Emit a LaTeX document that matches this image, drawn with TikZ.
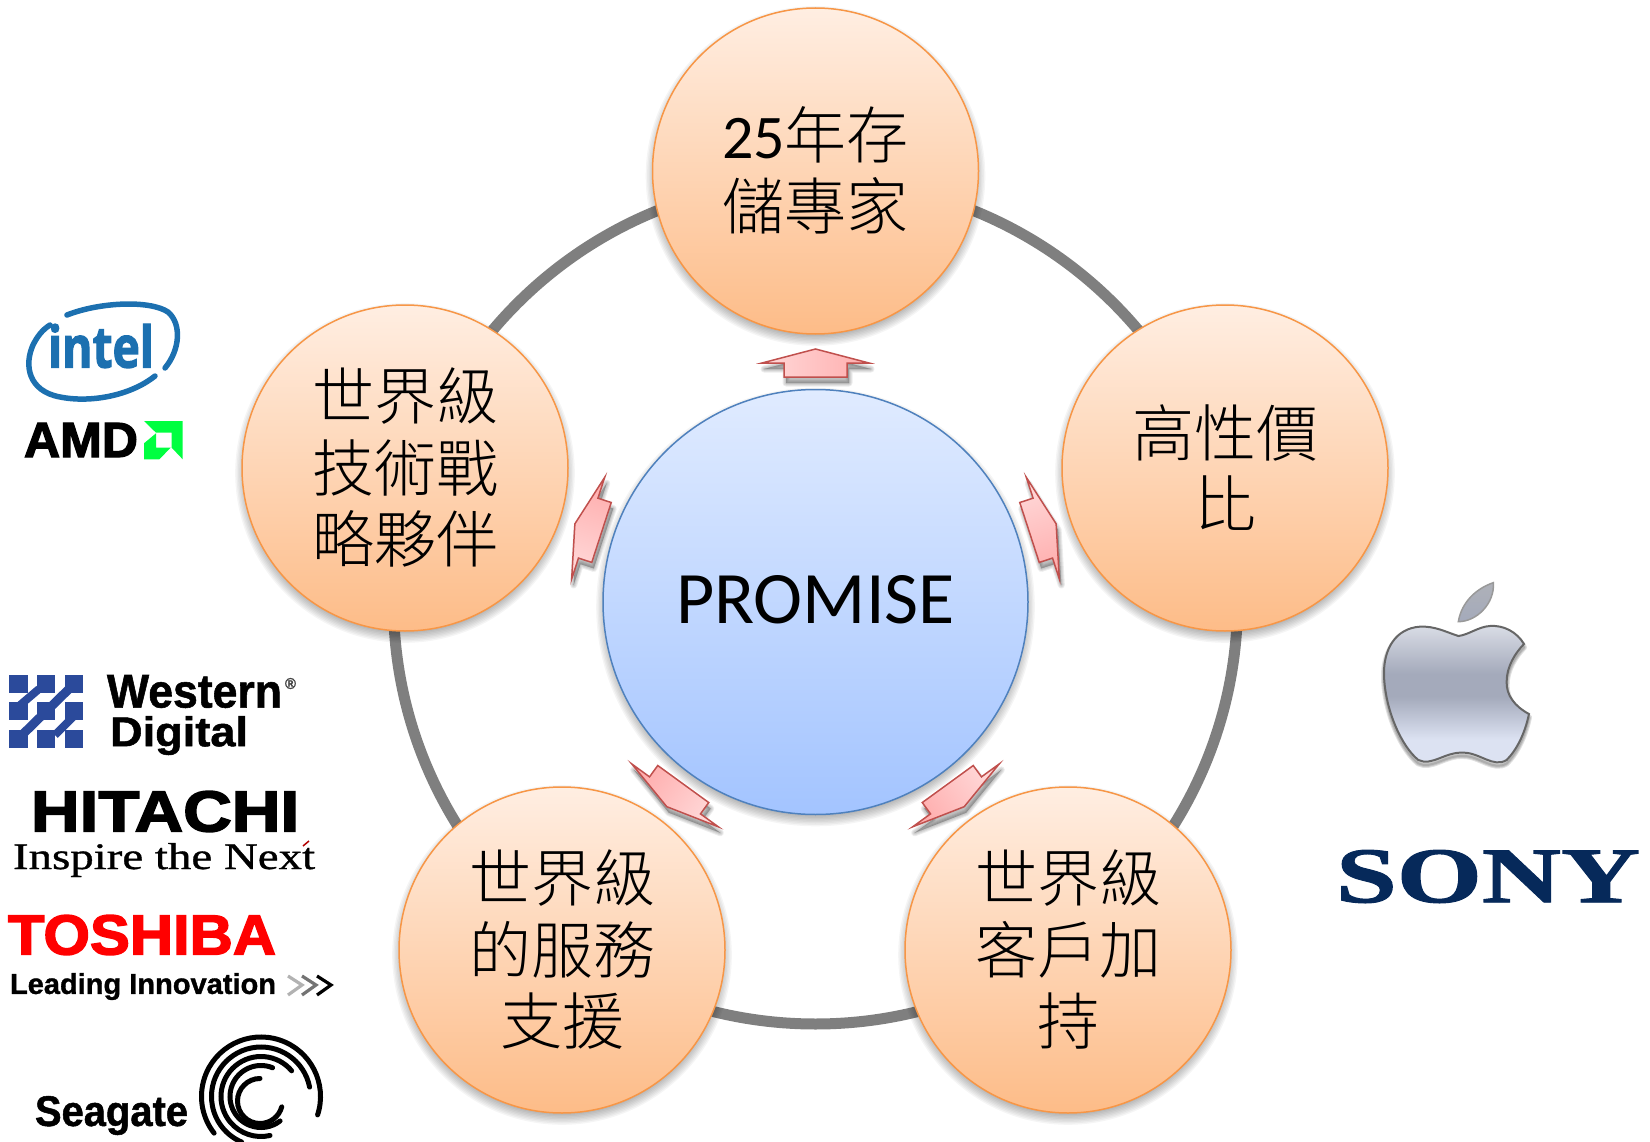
\documentclass[tikz,border=0pt]{standalone}
\usepackage{fontspec}
\setmainfont{Carlito}
\newfontfamily\cjk{Noto Sans CJK TC Light}
\newfontfamily\lsans[BoldFeatures={FakeBold=1.2}]{Liberation Sans}
\newfontfamily\lheavy[BoldFeatures={FakeBold=2.5}]{Liberation Sans}
\newfontfamily\lserif[BoldFeatures={FakeBold=1.2}]{Liberation Serif}
\newfontfamily\lserifm[FakeBold=0.8]{Liberation Serif}
\newfontfamily\osans[BoldFeatures={FakeBold=2.2}]{Open Sans}
\newcommand\zh[1]{{\cjk #1}}
\newcommand\lt[3]{\resizebox*{#1pt}{#2pt}{#3}}
\definecolor{orEdge}{HTML}{F79646}
\definecolor{orTop}{HTML}{FFEEE2}
\definecolor{orBot}{HTML}{FDBC88}
\definecolor{blEdge}{HTML}{4F81BD}
\definecolor{blTop}{HTML}{E0EBFF}
\definecolor{blBot}{HTML}{A3C4FF}
\definecolor{arEdge}{HTML}{C0504D}
\definecolor{arLight}{HTML}{FFD8D8}
\definecolor{arDark}{HTML}{FFAEAE}
\definecolor{ringc}{HTML}{7F7F7F}
\definecolor{intelc}{HTML}{1C70B0}
\definecolor{amdg}{HTML}{00FF40}
\definecolor{wdc}{HTML}{2B4A9B}
\definecolor{sonyc}{HTML}{06295A}
\definecolor{applea}{HTML}{DADDE6}
\definecolor{appleb}{HTML}{A4AABB}
\definecolor{applec}{HTML}{DCE2F2}
\pgfdeclareverticalshading{appleshade}{100bp}{color(0bp)=(applec);color(25bp)=(applec);color(35bp)=(applec);color(50bp)=(appleb);color(58bp)=(appleb);color(75bp)=(applea);color(100bp)=(applea)}
\tikzset{
  bub/.style={circle,draw=orEdge,line width=1.5pt,shade,top color=orTop,bottom color=orBot,minimum size=326pt,inner sep=0pt},
  hub/.style={circle,draw=blEdge,line width=1.5pt,shade,top color=blTop,bottom color=blBot,minimum size=425pt,inner sep=0pt},
  bubtext/.style={align=center,inner sep=0pt,yshift=0.5pt,font=\fontsize{62}{71.5}\selectfont},
  hubtext/.style={inner sep=0pt,yshift=2pt,font=\fontsize{74}{80}\selectfont},
  logo/.style={inner sep=0pt,outer sep=0pt,anchor=north west},
  ringline/.style={draw=ringc,line width=11pt},
  seag/.style={draw=black,line width=5pt,line cap=round},
}
\newcommand\softshadow[3]{\foreach \k in {0,...,7}{\fill[black,opacity=.04] (#1,#2+5) circle ({#3-3+\k*1.4 pt});}}
\newcommand\arrowpath{(815.5,349) -- (869,363) -- (847,363) -- (847,377) -- (784,377) -- (784,363) -- (762,363) -- cycle}
\newcommand\petal[1]{%
  \begin{scope}[shift={(2,6)}]\begin{scope}[rotate around={-#1:(815.5,602)}]
    \foreach \w in {1,3,5,7}{\draw[black,opacity=.07,fill=black,line width=\w pt,line join=round] \arrowpath;}
  \end{scope}\end{scope}
  \begin{scope}[rotate around={-#1:(815.5,602)}]
    \draw[draw=arEdge,line width=1.5pt,line join=miter,shading=axis,top color=arLight,bottom color=arDark,shading angle={90-#1}] \arrowpath;
  \end{scope}}
\newcommand\seagarc[5]{\draw[seag] (#1,#2) ++(#4:#3 pt) arc[start angle=#4,end angle=#5,radius=#3 pt];}
\begin{document}
\begin{tikzpicture}[x=1pt,y=-1pt]
\useasboundingbox (0,0) rectangle (1650,1142);
\clip (0,0) rectangle (1650,1142);
% ring
\coordinate (mid) at (815.5,602);
\draw[ringline] (mid) circle (422pt);
% shadows
\softshadow{815.5}{171}{163}
\softshadow{405}{468}{163}
\softshadow{1225}{468}{163}
\softshadow{562}{950}{163}
\softshadow{1068}{950}{163}
\softshadow{815.5}{602}{212.5}
% circles
\node[hub] (promise) at (mid) {};
\node[hubtext] (tp) at (promise) {PROMISE};
\node[bub] (c0) at (815.5,171) {};
\node[bub] (c1) at (1225,468) {};
\node[bub] (c2) at (1068,950) {};
\node[bub] (c3) at (562,950) {};
\node[bub] (c4) at (405,468) {};
\node[bubtext] (t0) at (c0) {25\zh{年存}\\\zh{儲專家}};
\node[bubtext] (t1) at (c1) {\zh{高性價}\\\zh{比}};
\node[bubtext] (t2) at (c2) {\zh{世界級}\\\zh{客戶加}\\\zh{持}};
\node[bubtext] (t3) at (c3) {\zh{世界級}\\\zh{的服務}\\\zh{支援}};
\node[bubtext] (t4) at (c4) {\zh{世界級}\\\zh{技術戰}\\\zh{略夥伴}};
% arrows
\petal{0}\petal{72}\petal{144}\petal{216}\petal{288}
% Intel
\draw[intelc,line width=5.5pt,line cap=round] (67,315) .. controls (100,302) and (150,300) .. (168,312) .. controls (182,324) and (180,350) .. (165,368);
\draw[intelc,line width=5.5pt,line cap=round] (155,376) .. controls (130,396) and (90,403) .. (60,397) .. controls (28,391) and (24,365) .. (33,345) .. controls (37,337) and (42,330) .. (50,325);
\node[logo,text=intelc] (intel) at (48,324) {\lt{106}{44}{\osans\bfseries intel}};
% AMD
\node[logo] (amd) at (24,423) {\lt{114}{34}{\lheavy\bfseries AMD}};
\fill[amdg] (144,421) -- (182.7,421) -- (182.7,459.3) -- (171.7,447.7) -- (171.7,432.7) -- (156,432.7) -- cycle;
\fill[amdg] (144,459.3) -- (144,443.3) -- (156,433.3) -- (156,447.7) -- (170.7,447.7) -- (159.3,459.3) -- cycle;
% Western Digital
\foreach \cx in {9.3,37,65}{\foreach \cy in {675,702,730}{\fill[wdc] (\cx,\cy) rectangle +(18.2,18.2);}}
\draw[wdc,line width=9pt] (22,735) -- (70,688);
\draw[wdc,line width=8pt] (19,706) -- (39,689);
\draw[wdc,line width=8pt] (55,735) -- (74,716);
\node[logo] (wd1) at (107,675) {\lt{175}{33}{\lsans\bfseries Western}};
\node[logo,text=black!75] (wdr) at (285,678) {\lt{11}{11}{\lsans\bfseries ®}};
\node[logo] (wd2) at (110,716) {\lt{138}{39}{\lsans\bfseries Digital}};
% Hitachi
\node[logo] (hit) at (31,791) {\lt{268}{41}{\lheavy\bfseries HITACHI}};
\node[logo] (ins) at (13,843) {\lt{302}{34}{\lserifm Inspire the Next}};
\draw[red!70!black,line width=1.5pt] (303,846) -- (309,841);
% Toshiba
\node[logo,text=red] (tosh) at (8,915) {\lt{268}{40}{\lheavy\bfseries TOSHIBA}};
\node[logo] (lead) at (10,973) {\lt{266}{27}{\lsans\bfseries Leading Innovation}};
\draw[black!30,line width=3.2pt] (288,976) -- (302,985) -- (288,995);
\draw[black!55,line width=3.2pt] (302,976) -- (316,985) -- (302,995);
\draw[black,line width=3.2pt] (317,976) -- (331,985) -- (317,995);
% Seagate
\node[logo] (sea) at (35,1096) {\lt{153}{39}{\lsans\bfseries Seagate}};
\seagarc{261}{1096.5}{59.5}{-18}{218}
\seagarc{261}{1096.5}{49.5}{11}{247}
\seagarc{261}{1096.5}{40}{40}{283}
\seagarc{261}{1096.5}{31}{68}{308}
\seagarc{260}{1101}{22.5}{90}{345}
% Apple
\begin{scope}[shift={(1320,560)},x=.3333pt,y=-.3333pt]
\newcommand\applebody{(415,228)
 .. controls (375,215) and (345,198) .. (300,200)
 .. controls (225,205) and (190,270) .. (192,345)
 .. controls (195,450) and (245,560) .. (295,600)
 .. controls (335,620) and (375,575) .. (430,578)
 .. controls (480,578) and (520,625) .. (560,600)
 .. controls (590,570) and (615,520) .. (627,462)
 .. controls (585,440) and (558,405) .. (560,365)
 .. controls (560,320) and (585,280) .. (612,252)
 .. controls (590,215) and (550,195) .. (510,198)
 .. controls (475,200) and (445,225) .. (415,228) -- cycle}
\begin{scope}[shift={(0,10)}]
\foreach \w in {2,4,6}{\draw[black,opacity=.12,line width=\w pt,line join=round] \applebody;}
\end{scope}
\draw[draw=black!60,line width=2pt,shading=appleshade] \applebody;
\draw[draw=black!40,line width=1.5pt,top color=applea!80!black,bottom color=appleb] (520,68)
 .. controls (470,85) and (425,125) .. (415,185)
 .. controls (470,185) and (525,130) .. (520,68) -- cycle;
\end{scope}
% Sony
\node[logo,text=sonyc] (sony) at (1336,850) {\lt{304}{53}{\lserif\bfseries SONY}};
\end{tikzpicture}
\end{document}
